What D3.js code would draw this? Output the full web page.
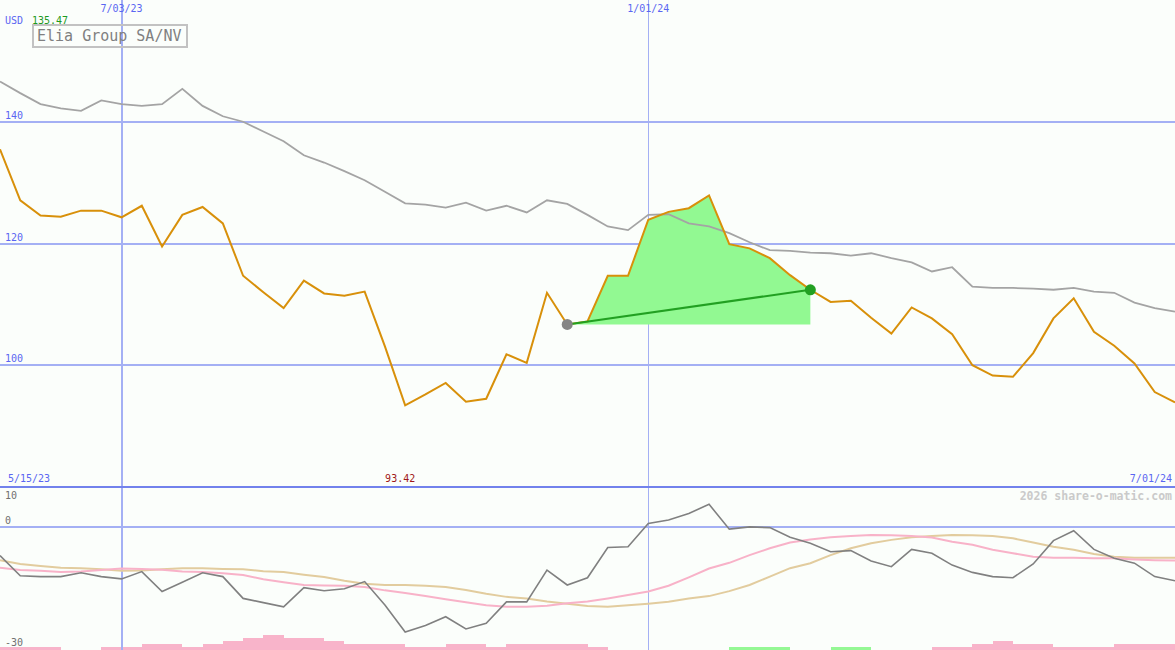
<!DOCTYPE html>
<html>
<head>
<meta charset="utf-8">
<script src="https://cdn.jsdelivr.net/npm/d3@7"></script>
<style>
  body { margin: 0; background: #fbfefb; }
  svg { display: block; font-family: "DejaVu Sans Mono", monospace; }
  .grid { stroke: #a4b0f4; shape-rendering: crispEdges; }
</style>
</head>
<body>
<div id="chart"></div>
<script>
// weekly closes (USD) and benchmark, 5/22/23 .. 7/01/24
const startDate = new Date(2023, 4, 22), endDate = new Date(2024, 6, 2);
const price = [135.47, 127.1, 124.6, 124.4, 125.4, 125.4, 124.3, 126.2, 119.5, 124.7,
  126.0, 123.3, 114.7, 112.0, 109.4, 113.9, 111.8, 111.4, 112.1, 103.1,
  93.42, 95.2, 97.1, 94.0, 94.5, 101.8, 100.4, 111.9, 106.7, 107.2,
  114.7, 114.7, 123.9, 125.2, 125.8, 127.9, 119.9, 119.2, 117.6, 114.8,
  112.4, 110.4, 110.6, 107.8, 105.2, 109.5, 107.7, 105.1, 100.0, 98.3,
  98.1, 102.0, 107.7, 111.0, 105.5, 103.2, 100.3, 95.6, 93.9];
const bench = [146.6, 144.7, 142.9, 142.2, 141.8, 143.5, 142.9, 142.6, 142.9, 145.4,
  142.6, 140.9, 140.0, 138.4, 136.8, 134.5, 133.3, 131.9, 130.4, 128.5,
  126.6, 126.4, 125.9, 126.7, 125.4, 126.2, 125.1, 127.1, 126.5, 124.7,
  122.8, 122.2, 124.7, 124.8, 123.3, 122.8, 121.7, 120.2, 118.9, 118.8,
  118.5, 118.4, 118.0, 118.4, 117.6, 116.9, 115.4, 116.1, 112.9, 112.7,
  112.7, 112.6, 112.4, 112.7, 112.1, 111.9, 110.3, 109.4, 108.8];
// lower panel: relative strength and two smoothings
const rel = [-7.4, -12.7, -12.9, -12.9, -11.9, -12.9, -13.5, -11.6, -16.8, -14.4,
  -11.9, -12.9, -18.6, -19.7, -20.8, -15.8, -16.6, -16.1, -14.2, -20.3,
  -27.4, -25.7, -23.4, -26.6, -25.1, -19.5, -19.5, -11.2, -15.1, -13.2,
  -5.3, -5.1, 1.0, 1.9, 3.6, 6.0, -0.5, 0.1, -0.1, -2.6,
  -4.2, -6.4, -6.1, -8.8, -10.3, -5.8, -6.8, -9.9, -11.8, -12.9,
  -13.2, -9.6, -3.5, -0.9, -5.8, -8.1, -9.4, -12.9, -14.0];
const relFast = [-10.6, -11.2, -11.4, -11.7, -11.6, -11.2, -10.8, -10.9, -11.1, -11.6,
  -11.7, -12.0, -12.5, -13.6, -14.4, -15.1, -15.2, -15.3, -15.6, -16.5,
  -17.2, -18.0, -18.8, -19.6, -20.4, -20.8, -20.8, -20.5, -19.9, -19.4,
  -18.6, -17.7, -16.8, -15.3, -13.1, -10.8, -9.3, -7.3, -5.5, -4.0,
  -3.2, -2.6, -2.3, -2.0, -2.1, -2.3, -2.7, -3.8, -4.6, -5.9,
  -6.8, -7.7, -8.0, -8.0, -8.1, -8.1, -8.4, -8.6, -8.7];
const relSlow = [-8.6, -9.6, -10.1, -10.6, -10.7, -11.0, -11.4, -11.3, -11.0, -10.7,
  -10.7, -10.9, -11.0, -11.5, -11.7, -12.4, -13.0, -14.0, -14.8, -15.1,
  -15.1, -15.3, -15.6, -16.4, -17.4, -18.2, -18.6, -19.4, -20.0, -20.6,
  -20.8, -20.4, -20.0, -19.5, -18.6, -18.0, -16.7, -15.1, -12.9, -10.7,
  -9.4, -7.3, -5.5, -4.2, -3.3, -2.6, -2.3, -2.0, -2.1, -2.3,
  -2.9, -4.0, -5.1, -5.9, -7.0, -7.7, -8.0, -8.0, -8.0];
// histogram per week (step bars)
const hist = [-1, -1, -1, 0, 0, -1, -1, -2, -2, -1, -2, -3, -4, -5, -4, -4, -3, -2, -2, -2,
  -1, -1, -2, -2, -1, -2, -2, -2, -2, -1, 0, 0, 0, 0, 0, 0, 1, 1, 1, 0,
  0, 1, 1, 0, 0, 0, -1, -1, -2, -3, -2, -2, -1, -1, -1, -2, -2, -2];
const priceTicks = [100, 120, 140];
const relTicks = [10, 0, -30];
const dateTicks = [new Date(2023, 6, 3), new Date(2024, 0, 1)];
const trade = { from: 28, to: 40 };
const title = "Elia Group SA/NV";

const W = 1175, H = 650;
const dates = d3.timeMonday.range(startDate, endDate);
const fmt = d3.timeFormat("%-m/%d/%y");

let x = d3.scaleTime().domain([dates[0], dates[dates.length - 1]]).range([0, W]);
let y = d3.scaleLinear().domain([80, 160]).range([487, 0]);
let y2 = d3.scaleLinear().domain([-30, 10]).range([642, 489]);
let hh = d3.scaleLinear().domain([0, 5]).range([0, 15]);

let svg = d3.select("#chart").append("svg")
    .attr("width", W).attr("height", H);

svg.append("rect").attr("width", W).attr("height", H).attr("fill", "#fbfefb");

// histogram bars at the foot of the lower panel
svg.selectAll(".hbar").data(hist).enter().append("rect")
    .attr("x", (d, i) => x(dates[i]))
    .attr("width", (d, i) => x(dates[i + 1]) - x(dates[i]))
    .attr("y", d => H - hh(Math.abs(d)))
    .attr("height", d => hh(Math.abs(d)))
    .attr("fill", d => d > 0 ? "#94f894" : "#f8b4ca")
    .attr("shape-rendering", "crispEdges");

// horizontal grid
svg.selectAll(".hg").data(priceTicks).enter().append("line")
    .attr("class", "grid").attr("x1", 0).attr("x2", W)
    .attr("y1", d => y(d)).attr("y2", d => y(d)).attr("stroke-width", 2);
svg.append("line").attr("class", "grid").attr("x1", 0).attr("x2", W)
    .attr("y1", y2(0)).attr("y2", y2(0)).attr("stroke-width", 2);

// vertical grid
svg.selectAll(".vg").data(dateTicks).enter().append("line")
    .attr("class", "grid")
    .attr("x1", d => Math.round(x(d))).attr("x2", d => Math.round(x(d)))
    .attr("y1", 0).attr("y2", H)
    .attr("stroke-width", (d, i) => i === 0 ? 2 : 1);

// panel separator
svg.append("line").attr("x1", 0).attr("x2", W).attr("y1", 487).attr("y2", 487)
    .attr("stroke", "#7282ec").attr("stroke-width", 2).attr("shape-rendering", "crispEdges");

// trade gain area
let seg = d3.range(trade.from, trade.to + 1);
let gainArea = d3.area()
    .x(i => x(dates[i]))
    .y0(y(price[trade.from]))
    .y1(i => y(price[i]));
svg.append("path").datum(seg).attr("d", gainArea).attr("fill", "#92f992");

// lines
let priceLine = d3.line().x((d, i) => x(dates[i])).y(d => y(d));
let relLine = d3.line().x((d, i) => x(dates[i])).y(d => y2(d));

svg.append("path").datum(relSlow).attr("d", relLine)
    .attr("fill", "none").attr("stroke", "#e2cc9e").attr("stroke-width", 2);
svg.append("path").datum(relFast).attr("d", relLine)
    .attr("fill", "none").attr("stroke", "#f8b2c8").attr("stroke-width", 2);
svg.append("path").datum(rel).attr("d", relLine)
    .attr("fill", "none").attr("stroke", "#808080").attr("stroke-width", 1.6);

svg.append("path").datum(bench).attr("d", priceLine)
    .attr("fill", "none").attr("stroke", "#a4a4a4").attr("stroke-width", 1.8);
svg.append("path").datum(price).attr("d", priceLine)
    .attr("fill", "none").attr("stroke", "#d8900a").attr("stroke-width", 2);

// trade line and markers
svg.append("line")
    .attr("x1", x(dates[trade.from])).attr("y1", y(price[trade.from]))
    .attr("x2", x(dates[trade.to])).attr("y2", y(price[trade.to]))
    .attr("stroke", "#22a022").attr("stroke-width", 2);
svg.append("circle").attr("cx", x(dates[trade.from])).attr("cy", y(price[trade.from]))
    .attr("r", 5.5).attr("fill", "#858585");
svg.append("circle").attr("cx", x(dates[trade.to])).attr("cy", y(price[trade.to]))
    .attr("r", 5.5).attr("fill", "#22a022");

// labels
const blue = "#5a66f2";
svg.selectAll(".pl").data(priceTicks).enter().append("text")
    .attr("x", 5).attr("y", d => y(d) - 3)
    .attr("font-size", 10).attr("fill", blue).text(d => d);
svg.selectAll(".rl").data(relTicks).enter().append("text")
    .attr("x", 5)
    .attr("y", d => d === 10 ? y2(d) + 10 : d === 0 ? y2(d) - 3 : y2(d) + 4)
    .attr("font-size", 10).attr("fill", "#707070").text(d => d === -30 ? "-30" : d);

svg.selectAll(".dl").data(dateTicks).enter().append("text")
    .attr("x", d => x(d)).attr("y", 12).attr("text-anchor", "middle")
    .attr("font-size", 10).attr("fill", blue).text(d => fmt(d));

svg.append("text").attr("x", 5).attr("y", 24).attr("font-size", 10)
    .attr("fill", blue).text("USD");
svg.append("text").attr("x", 32).attr("y", 24).attr("font-size", 10)
    .attr("fill", "#1e9a1e").text(d3.max(price).toFixed(2));

svg.append("rect").attr("x", 33).attr("y", 25).attr("width", 154).attr("height", 22)
    .attr("fill", "none").attr("stroke", "#c2c2c2").attr("stroke-width", 2);
svg.append("text").attr("x", 37).attr("y", 41).attr("font-size", 15)
    .attr("fill", "#808080").text(title);

svg.append("text").attr("x", 8).attr("y", 482).attr("font-size", 10)
    .attr("fill", blue).text("5/15/23");
let lowIdx = d3.minIndex(price);
svg.append("text").attr("x", x(dates[lowIdx]) - 5).attr("y", 482)
    .attr("text-anchor", "middle").attr("font-size", 10)
    .attr("fill", "#a01818").text(d3.min(price).toFixed(2));
svg.append("text").attr("x", 1172).attr("y", 482).attr("text-anchor", "end")
    .attr("font-size", 10).attr("fill", blue).text(fmt(dates[dates.length - 1]));

svg.append("text").attr("x", 1172).attr("y", 500).attr("text-anchor", "end")
    .attr("font-size", 11.5).attr("font-weight", "bold")
    .attr("fill", "#cacaca").text("2026 share-o-matic.com");
</script>
</body>
</html>
